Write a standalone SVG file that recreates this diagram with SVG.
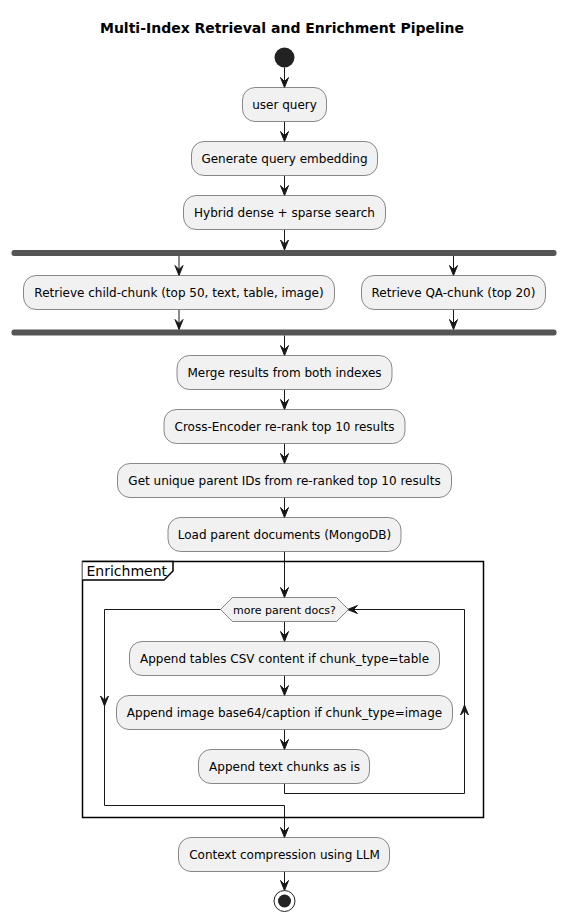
<svg xmlns="http://www.w3.org/2000/svg" width="567" height="923" viewBox="0 0 567 923">
<style>
text{font-family:"DejaVu Sans","Liberation Sans",sans-serif;fill:#000}
.t{font-size:12px;text-anchor:middle}
.box{fill:#F1F1F1;stroke:#181818;stroke-width:0.5}
.ln{fill:none;stroke:#181818;stroke-width:1}
.bar{fill:#555555}
</style>
<defs>
<marker id="ah" markerUnits="userSpaceOnUse" markerWidth="10" markerHeight="8" refX="10" refY="4" orient="auto" viewBox="0 0 10 8" overflow="visible">
<path d="M0,0 L10,4 L0,8 L4,4 Z" fill="#181818" stroke="#181818" stroke-width="1"/>
</marker>
</defs>
<rect width="567" height="923" fill="#fff"/>
<text x="282" y="32.7" style="font-size:14px;font-weight:bold;text-anchor:middle">Multi-Index Retrieval and Enrichment Pipeline</text>

<g id="connectors">
<path class="ln" d="M284.5,67.5 V87.5" marker-end="url(#ah)"/>
<path class="ln" d="M284.5,121.5 V141.5" marker-end="url(#ah)"/>
<path class="ln" d="M284.5,175.5 V195.5" marker-end="url(#ah)"/>
<path class="ln" d="M284.5,229.5 V250" marker-end="url(#ah)"/>
<path class="ln" d="M179,256 V275.5" marker-end="url(#ah)"/>
<path class="ln" d="M453.5,256 V275.5" marker-end="url(#ah)"/>
<path class="ln" d="M179,309.5 V329.5" marker-end="url(#ah)"/>
<path class="ln" d="M453.5,309.5 V329.5" marker-end="url(#ah)"/>
<path class="ln" d="M284.5,335.5 V355.5" marker-end="url(#ah)"/>
<path class="ln" d="M284.5,389.5 V409.5" marker-end="url(#ah)"/>
<path class="ln" d="M284.5,443.5 V463.5" marker-end="url(#ah)"/>
<path class="ln" d="M284.5,497.5 V517.5" marker-end="url(#ah)"/>
<path class="ln" d="M284.5,551.5 V597.5" marker-end="url(#ah)"/>
<path class="ln" d="M284.5,621.5 V641.5" marker-end="url(#ah)"/>
<path class="ln" d="M284.5,675.5 V695.5" marker-end="url(#ah)"/>
<path class="ln" d="M284.5,729.5 V749.5" marker-end="url(#ah)"/>
<path class="ln" d="M284.5,783.5 V793.5 H464.5 V609.5 H347.5" marker-end="url(#ah)"/>
<path class="ln" d="M464.5,715 V705" marker-end="url(#ah)"/>
<path class="ln" d="M220.5,609.5 H104.5 V805.5 H284.5 V837.5" marker-end="url(#ah)"/>
<path class="ln" d="M104.5,696 V706" marker-end="url(#ah)"/>
<path class="ln" d="M284.5,871.5 V890.5" marker-end="url(#ah)"/>
</g>

<g id="start"><circle cx="284.5" cy="57.5" r="10" fill="#222222"/></g>

<g id="n1"><rect class="box" x="242.5" y="87.5" width="84" height="34" rx="12.5"/><text class="t" x="284.5" y="108.5">user query</text></g>
<g id="n2"><rect class="box" x="191.5" y="141.5" width="186" height="34" rx="12.5"/><text class="t" x="284.5" y="162.5">Generate query embedding</text></g>
<g id="n3"><rect class="box" x="183.5" y="195.5" width="202" height="34" rx="12.5"/><text class="t" x="284.5" y="216.5">Hybrid dense + sparse search</text></g>

<g id="fork"><rect class="bar" x="11.5" y="250" width="545" height="6" rx="2.5"/></g>
<g id="n4"><rect class="box" x="23.5" y="275.5" width="311" height="34" rx="12.5"/><text class="t" x="179" y="296.5">Retrieve child-chunk (top 50, text, table, image)</text></g>
<g id="n5"><rect class="box" x="361.5" y="275.5" width="184" height="34" rx="12.5"/><text class="t" x="453.5" y="296.5">Retrieve QA-chunk (top 20)</text></g>
<g id="join"><rect class="bar" x="11.5" y="329.5" width="545" height="6" rx="2.5"/></g>

<g id="n6"><rect class="box" x="177" y="355.5" width="215" height="34" rx="12.5"/><text class="t" x="284.5" y="376.5">Merge results from both indexes</text></g>
<g id="n7"><rect class="box" x="164" y="409.5" width="241" height="34" rx="12.5"/><text class="t" x="284.5" y="430.5">Cross-Encoder re-rank top 10 results</text></g>
<g id="n8"><rect class="box" x="117.5" y="463.5" width="334" height="34" rx="12.5"/><text class="t" x="284.5" y="484.5">Get unique parent IDs from re-ranked top 10 results</text></g>
<g id="n9"><rect class="box" x="168" y="517.5" width="233" height="34" rx="12.5"/><text class="t" x="284.5" y="538.5">Load parent documents (MongoDB)</text></g>

<g id="enrichment">
<rect x="82.5" y="561.5" width="401" height="256" fill="none" stroke="#000" stroke-width="1.5"/>
<path d="M82.5,561.5 H173 V571 L164,580 H82.5" fill="#fff" stroke="#000" stroke-width="1.5"/>
<text x="86.5" y="575.5" style="font-size:14px">Enrichment</text>
</g>

<g id="decision"><polygon points="220.5,609.5 232.5,597.5 336.5,597.5 348.5,609.5 336.5,621.5 232.5,621.5" class="box"/><text x="284.5" y="613.5" style="font-size:11px;text-anchor:middle">more parent docs?</text></g>
<g id="n10"><rect class="box" x="129.5" y="641.5" width="310" height="34" rx="12.5"/><text class="t" x="284.5" y="662.5">Append tables CSV content if chunk_type=table</text></g>
<g id="n11"><rect class="box" x="116.5" y="695.5" width="336" height="34" rx="12.5"/><text class="t" x="284.5" y="716.5">Append image base64/caption if chunk_type=image</text></g>
<g id="n12"><rect class="box" x="198.5" y="749.5" width="171" height="34" rx="12.5"/><text class="t" x="284.5" y="770.5">Append text chunks as is</text></g>

<g id="n13"><rect class="box" x="178.5" y="837.5" width="211" height="34" rx="12.5"/><text class="t" x="284.5" y="858.5">Context compression using LLM</text></g>
<g id="end"><circle cx="284.5" cy="901" r="10.5" fill="#fff" stroke="#222222" stroke-width="1"/><circle cx="284.5" cy="901" r="6.5" fill="#222222"/></g>
</svg>
